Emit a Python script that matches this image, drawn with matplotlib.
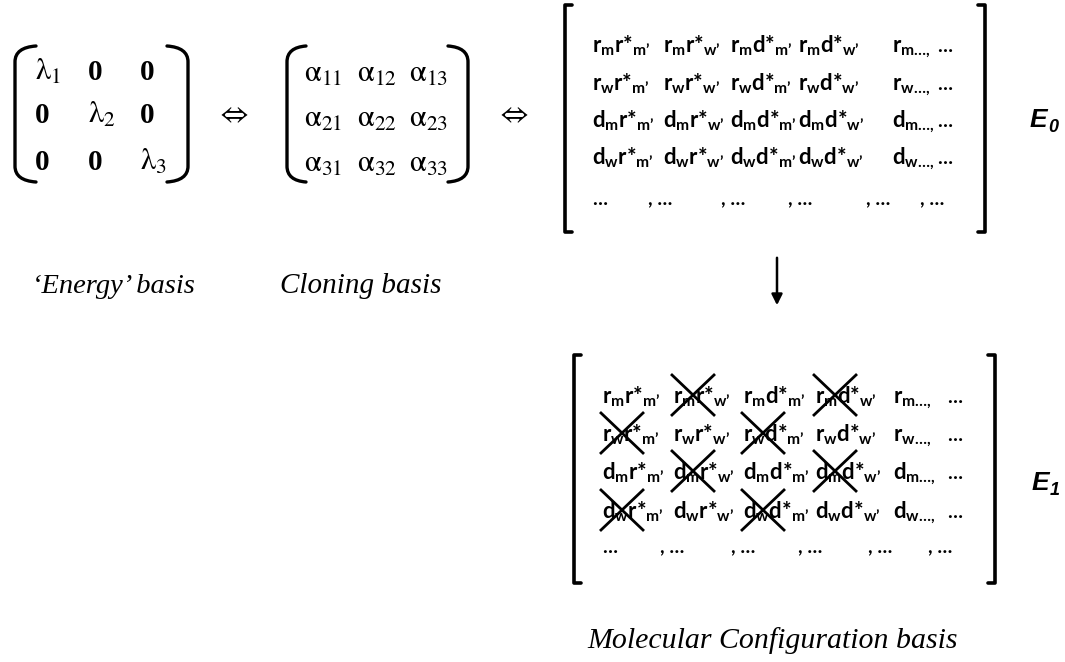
import matplotlib
matplotlib.use('Agg')
import matplotlib.pyplot as plt
from matplotlib.path import Path
from matplotlib.patches import PathPatch, FancyArrowPatch

plt.rcParams['mathtext.fontset'] = 'custom'
plt.rcParams['mathtext.rm'] = 'Lato:bold'
plt.rcParams['mathtext.bf'] = 'Lato:bold'

# matrix contents
energy = [[r'\lambda_1', '0', '0'],
          ['0', r'\lambda_2', '0'],
          ['0', '0', r'\lambda_3']]
cloning = [[r'\alpha_{11}', r'\alpha_{12}', r'\alpha_{13}'],
           [r'\alpha_{21}', r'\alpha_{22}', r'\alpha_{23}'],
           [r'\alpha_{31}', r'\alpha_{32}', r'\alpha_{33}']]
left_f = [('r', 'm'), ('r', 'w'), ('d', 'm'), ('d', 'w')]
right_f = [('r', 'm'), ('r', 'w'), ('d', 'm'), ('d', 'w')]
# entries removed in E1 (row, col)
crossed = [(0, 1), (0, 3), (1, 0), (1, 2), (2, 1), (2, 3), (3, 0), (3, 2)]
labels = ["\u2018Energy\u2019 basis", "Cloning basis", "Molecular Configuration basis"]

fig = plt.figure(figsize=(10.65, 6.62), dpi=100)
ax = fig.add_axes([0, 0, 1, 1])
ax.set_xlim(0, 1065)
ax.set_ylim(662, 0)
ax.axis('off')


def round_bracket(x0, x1, y0, y1, lw=2.4):
    # curved square bracket, x0 = vertical line, x1 = tip of the hooks
    d = 16
    verts = [(x1, y0), (x0 + (x1 - x0) * 0.35, y0 + 1), (x0, y0 + 6), (x0, y0 + d),
             (x0, y1 - d),
             (x0, y1 - 6), (x0 + (x1 - x0) * 0.35, y1 - 1), (x1, y1)]
    codes = [Path.MOVETO, Path.CURVE4, Path.CURVE4, Path.CURVE4,
             Path.LINETO, Path.CURVE4, Path.CURVE4, Path.CURVE4]
    ax.add_patch(PathPatch(Path(verts, codes), fill=False, lw=lw, color='black',
                           capstyle='round'))


def square_bracket(x0, x1, y0, y1, lw=2.6):
    ax.plot([x1, x0, x0, x1], [y0, y0, y1, y1], color='black', lw=lw,
            solid_joinstyle='round', solid_capstyle='round')


def e_label(x, y, sub):
    ax.text(x, y, 'E', fontsize=19, family='Liberation Sans', weight='bold',
            style='italic', va='baseline')
    ax.text(x + 18, y + 5, sub, fontsize=13, family='Liberation Sans', weight='bold',
            style='italic', va='baseline')


# 'Energy' matrix
cols1 = [35, 88, 140]
rows1 = [80, 123, 170]
for i, row in enumerate(energy):
    for j, v in enumerate(row):
        if v == '0':
            ax.text(cols1[j], rows1[i], v, fontsize=21, family='Liberation Serif',
                    weight='bold', va='baseline')
        else:
            ax.text(cols1[j], rows1[i], r'$\mathrm{' + v[:-2] + '}' + v[-2:] + '$',
                    fontsize=22, math_fontfamily='stix', va='baseline')
round_bracket(15, 36, 46, 182)
round_bracket(188, 167, 46, 182)
ax.text(232, 114, r'$\Leftrightarrow$', fontsize=21, math_fontfamily='stix',
        ha='center', va='center')

# cloning matrix
cols2 = [304, 357, 409]
rows2 = [82, 127, 172]
for i, row in enumerate(cloning):
    for j, v in enumerate(row):
        ax.text(cols2[j], rows2[i], r'$\mathrm{' + v[:-5] + '}' + v[-5:] + '$',
                fontsize=22, math_fontfamily='stix', va='baseline')
round_bracket(287, 306, 46, 182)
round_bracket(468, 448, 46, 182)
ax.text(512, 114, r'$\Leftrightarrow$', fontsize=21, math_fontfamily='stix',
        ha='center', va='center')


def entry(a, b):
    return (r'$\mathrm{%s}_{\mathrm{%s}}\mathrm{%s}{*}_{\mathrm{%s’}}$'
            % (a[0], a[1], b[0], b[1]))


def config_matrix(cols, rows, last, crosses):
    for i, a in enumerate(left_f):
        for j, b in enumerate(right_f):
            ax.text(cols[j], rows[i], entry(a, b), fontsize=16, va='baseline')
        ax.text(cols[4], rows[i], r'$\mathrm{%s}_{\mathrm{%s…,}}$' % a,
                fontsize=16, va='baseline')
        ax.text(cols[5], rows[i], '…', fontsize=14, family='Lato', weight='bold',
                va='baseline')
    for j in range(6):
        s = '…' if j == 0 else ', …'
        ax.text(last[j], rows[4], s, fontsize=14, family='Lato', weight='bold',
                va='baseline')
    for (i, j) in crosses:
        cx, cy = cols[j] + 20, rows[i] - 8
        ax.plot([cx - 21, cx + 21], [cy - 20, cy + 20], color='black', lw=2)
        ax.plot([cx - 21, cx + 21], [cy + 20, cy - 20], color='black', lw=2)


config_matrix([592, 663, 730, 798, 892, 937], [52, 90, 127, 164, 205],
              [592, 648, 721, 788, 866, 920], [])
square_bracket(565, 572, 5, 232)
square_bracket(985, 978, 5, 232)
e_label(1030, 127, '0')

ax.add_patch(FancyArrowPatch((777, 255), (777, 308), arrowstyle='-|>',
                             mutation_scale=16, lw=1.8, color='black'))

config_matrix([602, 673, 743, 815, 893, 947], [403, 441, 479, 518, 553],
              [602, 660, 731, 798, 868, 928], crossed)
square_bracket(574, 581, 355, 583)
square_bracket(995, 988, 355, 583)
e_label(1032, 490, '1')

ax.text(32, 293, labels[0], fontsize=20.5, family='Liberation Serif', style='italic',
        va='baseline')
ax.text(280, 293, labels[1], fontsize=21, family='Liberation Serif', style='italic',
        va='baseline')
ax.text(587, 648, labels[2], fontsize=21.5, family='Liberation Serif', style='italic',
        va='baseline')

fig.savefig('out.png', dpi=100)
